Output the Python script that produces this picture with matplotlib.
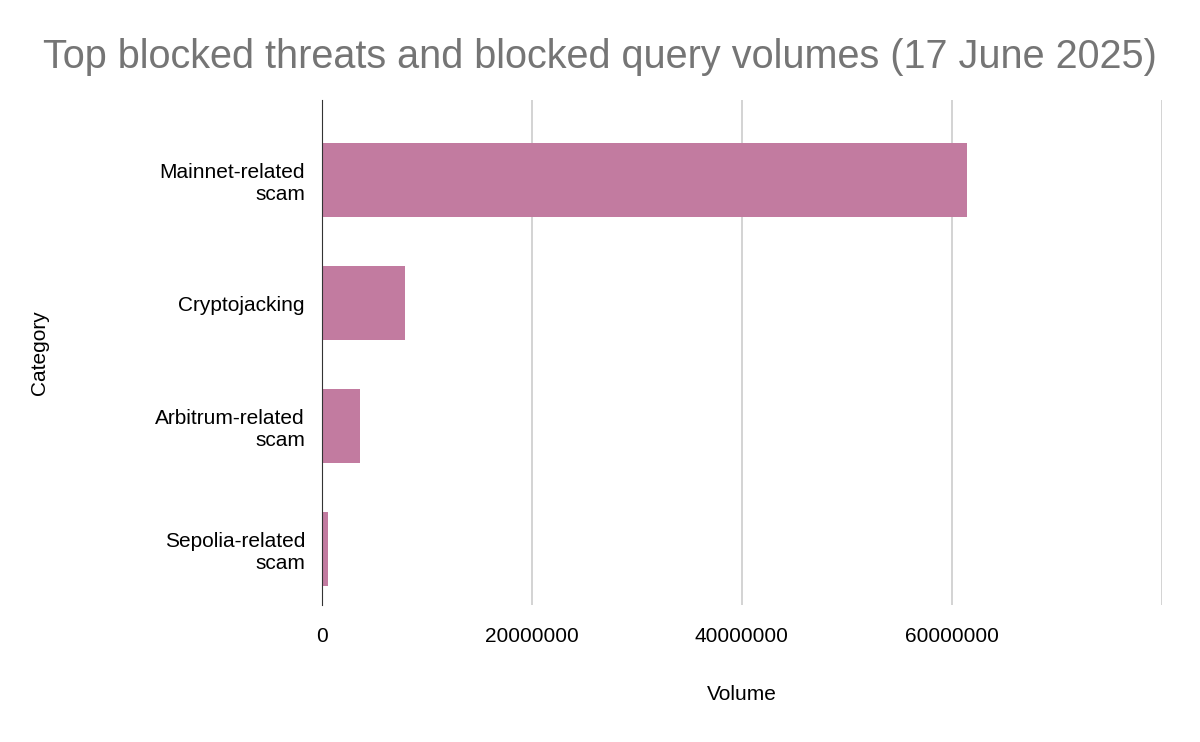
import matplotlib
matplotlib.use('Agg')
import matplotlib.pyplot as plt

categories = ["Mainnet-related\nscam", "Cryptojacking", "Arbitrum-related\nscam", "Sepolia-related\nscam"]
volumes = [61500000, 7900000, 3700000, 650000]
x_ticks = [0, 20000000, 40000000, 60000000, 80000000]
x_tick_labels = ["0", "20000000", "40000000", "60000000", ""]

plt.rcParams['font.family'] = 'Liberation Sans'

fig = plt.figure(figsize=(12, 7.42), dpi=100)
ax = fig.add_axes([0.268, 0.185, 0.7, 0.68])

pos = list(range(len(categories)))
ax.barh(pos, volumes, height=0.6, color='#c27ba0', zorder=3)
ax.set_yticks(pos)
ax.set_yticklabels(categories, fontsize=15)
ax.set_ylim(3.45, -0.65)
ax.set_xlim(0, 80000000)
ax.set_xticks(x_ticks)
ax.set_xticklabels(x_tick_labels, fontsize=15)
ax.grid(axis='x', color='#cccccc', linewidth=1.2, zorder=0)
ax.tick_params(axis='y', length=0, pad=12)
ax.tick_params(axis='x', length=0, pad=16)
for s in ['top', 'right', 'bottom']:
    ax.spines[s].set_visible(False)
ax.spines['left'].set_color('#333333')
ax.spines['left'].set_zorder(4)

ax.set_xlabel('Volume', fontsize=15, labelpad=28)
ax.set_ylabel('Category', fontsize=15)
ax.yaxis.set_label_coords(-0.325, 0.5)
fig.text(0.5, 0.923, 'Top blocked threats and blocked query volumes (17 June 2025)',
         ha='center', va='center', fontsize=28.5, color='#757575')

fig.savefig('out.png')
